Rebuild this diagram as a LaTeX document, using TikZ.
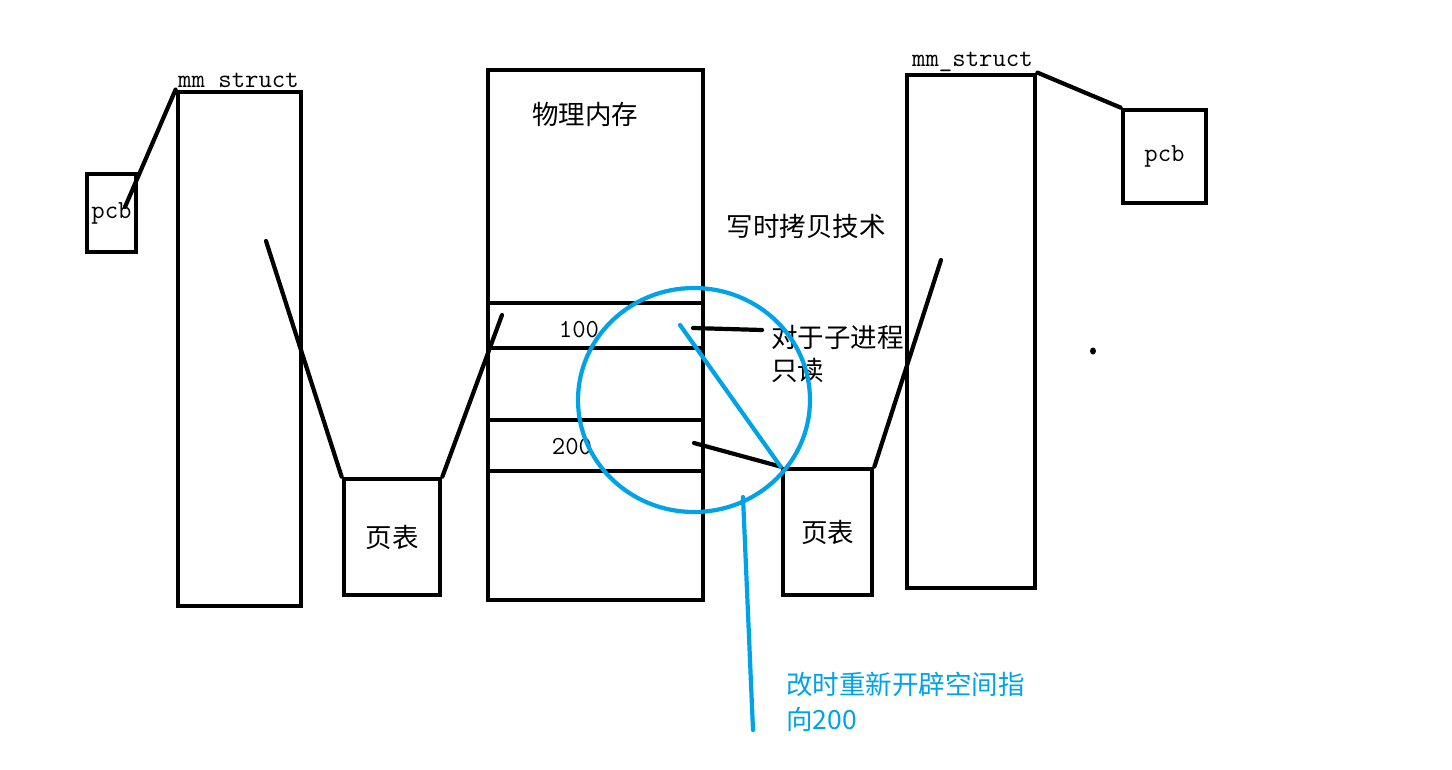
\documentclass[tikz,border=0pt]{standalone}
\usepackage{fontspec}
\setmainfont{Liberation Serif}
\newfontfamily\cjk{Noto Sans CJK SC}
\definecolor{cblue}{RGB}{0,162,232}
\tikzset{
  box/.style={draw, line width=4.8pt, inner sep=0pt},
  wire/.style={line width=4.2pt, line cap=round},
  rowline/.style={line width=4.2pt},
  bluewire/.style={line width=4.2pt, draw=cblue, line cap=round},
  cjktext/.style={font=\cjk\fontsize{26.5}{33}\selectfont, inner sep=0pt},
  monotext/.style={font=\ttfamily\fontsize{26}{30}\selectfont, inner sep=0pt},
}
\begin{document}
\begin{tikzpicture}[x=1pt,y=-1pt]
\useasboundingbox (0,0) rectangle (1452,769);
% boxes
\node[box, monotext, minimum width=49pt, minimum height=78pt] (lpcb) at (111.5,213) {pcb};
\node[box, minimum width=123pt, minimum height=514pt] (lmm) at (239.5,349) {};
\node[monotext, anchor=base west] (lmmlab) at (178,87) {mm\_struct};
\node[box, cjktext, minimum width=96pt, minimum height=116pt] (lpt) at (392,537) {页表};
\node[box, minimum width=215pt, minimum height=530pt] (mem) at (595.5,335) {};
\node[cjktext] (memtitle) at (585,114) {物理内存};
\node[box, cjktext, minimum width=89pt, minimum height=126pt] (rpt) at (827.5,532) {页表};
\node[box, minimum width=128pt, minimum height=513pt] (rmm) at (971,331.5) {};
\node[monotext, anchor=base west] (rmmlab) at (912,66) {mm\_struct};
\node[box, monotext, minimum width=83pt, minimum height=93pt] (rpcb) at (1164.5,156.5) {pcb};
% memory rows
\coordinate (r1) at (488,303);
\coordinate (r2) at (488,348);
\coordinate (r3) at (488,420);
\coordinate (r4) at (488,471);
\foreach \r in {r1,r2,r3,r4}{
  \draw[rowline] (mem.west |- \r) -- (mem.east |- \r);
}
\node[monotext] (v100) at (579,330) {100};
\node[monotext] (v200) at (572,447) {200};
% texts
\node[cjktext] (cow) at (806,226) {写时拷贝技术};
\node[cjktext, align=left, anchor=north west] (ro) at (771,325) {对于子进程\\只读};
\node[cjktext, text=cblue, align=left, anchor=north west, font=\cjk\fontsize{26.5}{35}\selectfont] (note) at (786,672) {改时重新开辟空间指\\向200};
% black connectors
\coordinate (lpcbin) at (125,207);
\draw[wire] (lpcbin) -- (lmm.north west);
\coordinate (lmmin) at (266,241);
\draw[wire] (lmmin) -- (lpt.north west);
\coordinate (cell1l) at (502,315);
\draw[wire] (cell1l) -- (lpt.north east);
\coordinate (c100) at (693,328);
\coordinate (roend) at (762,330);
\draw[wire] (c100) -- (roend);
\coordinate (c200) at (694,443);
\draw[wire] (c200) -- (rpt.north west);
\coordinate (rmmin) at (941,260);
\draw[wire] (rmmin) -- (rpt.north east);
\draw[wire] (rmm.north east) -- (rpcb.north west);
% blue marks
\draw[bluewire] (694,400) ellipse [x radius=116, y radius=112];
\coordinate (b1) at (680,325);
\draw[bluewire] (b1) -- (rpt.north west);
\coordinate (b2) at (743,497);
\coordinate (b3) at (753,730);
\draw[bluewire] (b2) -- (b3);
% stray dot
\fill (1093,351) ellipse [x radius=3, y radius=3.5];
\end{tikzpicture}
\end{document}
